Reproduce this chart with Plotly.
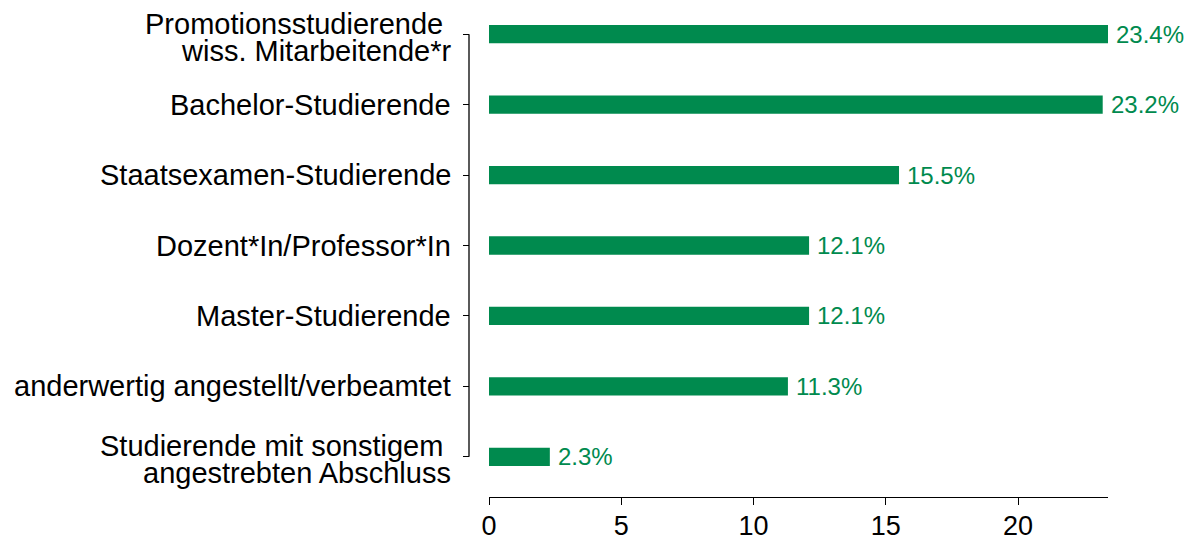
import plotly.graph_objects as go

categories = [
    "Promotionsstudierende <br>wiss. Mitarbeitende*r",
    "Bachelor-Studierende",
    "Staatsexamen-Studierende",
    "Dozent*In/Professor*In",
    "Master-Studierende",
    "anderwertig angestellt/verbeamtet",
    "Studierende mit sonstigem <br>angestrebten Abschluss",
]
values = [23.4, 23.2, 15.5, 12.1, 12.1, 11.3, 2.3]
value_labels = ["23.4%", "23.2%", "15.5%", "12.1%", "12.1%", "11.3%", "2.3%"]
x_ticks = [0, 5, 10, 15, 20]

# page offset (browser body margin) compensation
OFF = 8
W, H = 1194 - OFF, 539 - OFF
GREEN = "#008a4e"
FONT = "Liberation Sans, Arial, Helvetica, sans-serif"
LABEL_SIZE = 29
LINE_GAP = 27


def px_x(p):
    return (p - OFF) / W


def px_y(p):
    return (H - (p - OFF)) / H


pos = list(range(len(categories)))

fig = go.Figure()
fig.add_trace(go.Bar(
    x=values, y=pos, orientation="h", width=0.26,
    marker=dict(color=GREEN, line=dict(width=0)),
    hoverinfo="skip",
))

# value labels
for v, p, t in zip(values, pos, value_labels):
    fig.add_annotation(x=v, y=p, xref="x", yref="y", text=t, showarrow=False,
                       xanchor="left", yanchor="middle", xshift=6,
                       font=dict(family=FONT, size=24, color=GREEN))

# category labels (tight line spacing for two-line labels)
for p, cat in zip(pos, categories):
    lines = cat.split("<br>")
    n = len(lines)
    for i, line in enumerate(lines):
        off = (i - (n - 1) / 2) * LINE_GAP
        fig.add_annotation(x=px_x(453), y=p, xref="paper", yref="y",
                           text=line.replace(" ", "&nbsp;") if line.endswith(" ") else line,
                           showarrow=False, xanchor="right", yanchor="middle",
                           yshift=-off - (3 if n > 1 else 0),
                           font=dict(family=FONT, size=LABEL_SIZE, color="black"))

# y axis line spanning first to last category
fig.add_shape(type="line", xref="paper", yref="y",
              x0=px_x(469), x1=px_x(469), y0=0, y1=len(categories) - 1,
              line=dict(color="black", width=1.3))

top_px, bot_px = 34 - 21, 457 + 21
fig.update_layout(
    template="none",
    width=W, height=H,
    margin=dict(l=0, r=0, t=0, b=0, autoexpand=False),
    paper_bgcolor="white", plot_bgcolor="white",
    showlegend=False,
    font=dict(family=FONT, color="black"),
    xaxis=dict(
        domain=[px_x(489), px_x(1108)], range=[0, 23.4],
        anchor="free", position=px_y(497),
        automargin=False,
        showline=True, linecolor="black", linewidth=1.3,
        ticks="outside", ticklen=7, tickwidth=1.3, tickcolor="black",
        tickvals=x_ticks, ticktext=[str(t) for t in x_ticks],
        tickfont=dict(size=27, family=FONT, color="black"),
        ticklabelstandoff=-3,
        ticklabeloverflow="allow",
        showgrid=False, zeroline=False,
    ),
    yaxis=dict(
        domain=[px_y(bot_px), px_y(top_px)],
        range=[len(categories) - 1 + 0.3, -0.3],
        anchor="free", position=px_x(469),
        automargin=False,
        showline=False,
        ticks="outside", ticklen=6, tickwidth=1.3, tickcolor="black",
        tickvals=pos, showticklabels=False,
        showgrid=False, zeroline=False,
    ),
)

fig.write_html("out.html")
